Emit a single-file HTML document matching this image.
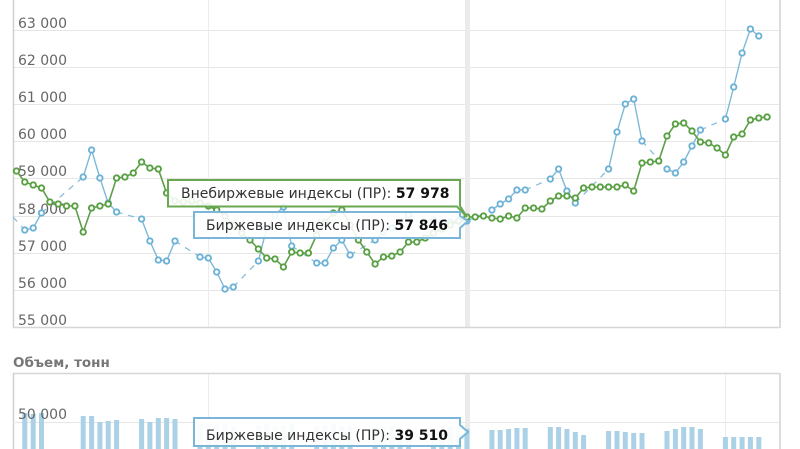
<!DOCTYPE html>
<html>
<head>
<meta charset="utf-8">
<style>
  html,body{margin:0;padding:0;background:#fff;}
  svg{display:block;}
  .lbl{font-family:"DejaVu Sans","Liberation Sans",sans-serif;font-size:14px;fill:#666;}
  .tt{font-family:"DejaVu Sans","Liberation Sans",sans-serif;font-size:14px;fill:#333;}
  .b{font-weight:bold;fill:#111;}
</style>
</head>
<body>
<svg width="800" height="449" viewBox="0 0 800 449" xmlns="http://www.w3.org/2000/svg">
  <defs>
    <marker id="mg" markerUnits="userSpaceOnUse" markerWidth="10" markerHeight="10" refX="5" refY="5">
      <circle cx="5" cy="5" r="2.7" fill="#fff" stroke="#58a043" stroke-width="1.9"/>
    </marker>
    <marker id="mb" markerUnits="userSpaceOnUse" markerWidth="10" markerHeight="10" refX="5" refY="5">
      <circle cx="5" cy="5" r="2.7" fill="#fff" stroke="#6cb2d6" stroke-width="1.9"/>
    </marker>
  </defs>

  <g stroke="#e6e6e6" stroke-width="1">
    <line x1="13" y1="30.5" x2="780" y2="30.5"/>
    <line x1="13" y1="67.5" x2="780" y2="67.5"/>
    <line x1="13" y1="104.5" x2="780" y2="104.5"/>
    <line x1="13" y1="141.5" x2="780" y2="141.5"/>
    <line x1="13" y1="178.5" x2="780" y2="178.5"/>
    <line x1="13" y1="216.5" x2="780" y2="216.5"/>
    <line x1="13" y1="253.5" x2="780" y2="253.5"/>
    <line x1="13" y1="290.5" x2="780" y2="290.5"/>
  </g>
  <g stroke="#ececec" stroke-width="1">
    <line x1="208.5" y1="0" x2="208.5" y2="328"/>
    <line x1="725.5" y1="0" x2="725.5" y2="328"/>
  </g>
  <rect x="465" y="0" width="5" height="328" fill="#ebebeb"/>
  <line x1="13.5" y1="0" x2="13.5" y2="328" stroke="#cfcfcf" stroke-width="1.5"/>
  <line x1="13" y1="327.5" x2="780" y2="327.5" stroke="#d6d6d6" stroke-width="1.5"/>
  <line x1="780" y1="0" x2="780" y2="328" stroke="#dcdcdc" stroke-width="2"/>

  <g class="lbl">
    <text x="18" y="28">63 000</text>
    <text x="18" y="65">62 000</text>
    <text x="18" y="102">61 000</text>
    <text x="18" y="139">60 000</text>
    <text x="18" y="176">59 000</text>
    <text x="18" y="214">58 000</text>
    <text x="18" y="251">57 000</text>
    <text x="18" y="288">56 000</text>
    <text x="18" y="325">55 000</text>
  </g>

  <g stroke="#86bedb" stroke-width="1.3" stroke-dasharray="6,6" fill="none">
    <line x1="13" y1="217" x2="24.8" y2="230"/>
    <line x1="41.5" y1="213" x2="83.2" y2="177"/>
    <line x1="116.6" y1="212" x2="141.6" y2="219"/>
    <line x1="175" y1="241" x2="200" y2="257"/>
    <line x1="233.3" y1="287" x2="258.4" y2="261"/>
    <line x1="291.7" y1="246" x2="316.7" y2="263"/>
    <line x1="350.1" y1="255" x2="375.1" y2="240"/>
    <line x1="408.5" y1="215" x2="433.5" y2="220"/>
    <line x1="466.9" y1="221" x2="491.9" y2="210"/>
    <line x1="525.2" y1="190" x2="550.3" y2="179"/>
    <line x1="575.3" y1="203" x2="608.6" y2="169"/>
    <line x1="642" y1="141" x2="667" y2="169"/>
    <line x1="700.4" y1="130" x2="725.4" y2="119"/>
  </g>
  <g stroke="#7db9d8" stroke-width="1.4" fill="none" marker-start="url(#mb)" marker-mid="url(#mb)" marker-end="url(#mb)">
    <polyline points="24.8,230 33.2,228 41.5,213"/>
    <polyline points="83.2,177 91.6,150 99.9,178 108.2,203 116.6,212"/>
    <polyline points="141.6,219 149.9,241 158.3,260 166.6,261 175,241"/>
    <polyline points="200,257 208.3,258 216.7,272 225,289 233.3,287"/>
    <polyline points="258.4,261 266.7,228 275,215 283.4,207 291.7,246"/>
    <polyline points="316.7,263 325.1,263 333.4,248 341.8,240 350.1,255"/>
    <polyline points="375.1,240 383.5,232 391.8,228 400.1,222 408.5,215"/>
    <polyline points="433.5,220 441.8,223 450.2,222 458.5,221 466.9,221"/>
    <polyline points="491.9,210 500.2,204 508.6,199 516.9,190 525.2,190"/>
    <polyline points="550.3,179 558.6,169 566.9,191 575.3,203"/>
    <polyline points="608.6,169 617,132 625.3,104 633.7,99 642,141"/>
    <polyline points="667,169 675.4,173 683.7,162 692,146 700.4,130"/>
    <polyline points="725.4,119 733.7,87 742.1,53 750.4,29 758.8,36"/>
  </g>

  <polyline fill="none" stroke="#5d9e49" stroke-width="1.6" marker-start="url(#mg)" marker-mid="url(#mg)" marker-end="url(#mg)"
    points="16.5,171 24.8,182 33.2,185 41.5,188 49.9,202 58.2,204 66.5,206 74.9,206 83.2,232 91.6,208 99.9,206 108.2,204 116.6,178 124.9,177 133.3,173 141.6,162 149.9,168 158.3,169 166.6,193 175,201 183.3,202 191.6,201 200,203 208.3,206 216.7,210 225,216 233.3,225 241.7,233 250,240 258.4,249 266.7,258 275,259 283.4,267 291.7,252 300.1,253 308.4,253 316.7,235 325.1,222 333.4,213 341.8,210 350.1,225 358.4,240 366.8,252 375.1,264 383.5,257 391.8,256 400.1,252 408.5,242 416.8,242 425.2,238 433.5,233 441.8,229 450.2,225 458.5,221 466.9,217 475.2,217 483.5,216 491.9,218 500.2,219 508.6,216 516.9,218 525.2,208 533.6,208 541.9,209 550.3,201 558.6,196 566.9,196 575.3,198 583.6,188 592,187 600.3,187 608.6,187 617,187 625.3,185 633.7,191 642,163 650.3,162 658.7,161 667,136 675.4,124 683.7,123 692,131 700.4,142 708.7,143 717.1,148 725.4,155 733.7,137 742.1,134 750.4,120 758.8,118 767.1,117"/>

  <path d="M168,180 H460 V206 L467,217 L457,206.5 H168 Z" fill="rgba(255,255,255,0.88)" stroke="#68a851" stroke-width="2"/>
  <text class="tt" x="181" y="198">Внебиржевые индексы (ПР): <tspan class="b">57 978</tspan></text>

  <path d="M194,212 H460 V216 L468,221 L460,228 V238 H194 Z" fill="rgba(255,255,255,0.88)" stroke="#7ab6d8" stroke-width="2"/>
  <text class="tt" x="206" y="230">Биржевые индексы (ПР): <tspan class="b">57 846</tspan></text>

  <text x="13" y="367" font-family="'DejaVu Sans','Liberation Sans',sans-serif" font-size="13.5" font-weight="bold" fill="#777">Объем, тонн</text>
  <line x1="13" y1="373.5" x2="780" y2="373.5" stroke="#d6d6d6" stroke-width="1.5"/>
  <line x1="13.5" y1="373" x2="13.5" y2="449" stroke="#cfcfcf" stroke-width="1.5"/>
  <line x1="780" y1="373" x2="780" y2="449" stroke="#dcdcdc" stroke-width="2"/>
  <line x1="13" y1="422.5" x2="780" y2="422.5" stroke="#e6e6e6"/>
  <g stroke="#ececec" stroke-width="1">
    <line x1="208.5" y1="374" x2="208.5" y2="449"/>
    <line x1="725.5" y1="374" x2="725.5" y2="449"/>
  </g>
  <rect x="465" y="374" width="5" height="75" fill="#ebebeb"/>

  <g fill="#aad1e6">
    <rect x="22.3" y="413" width="5" height="36"/>
    <rect x="30.7" y="414" width="5" height="35"/>
    <rect x="39" y="413" width="5" height="36"/>
    <rect x="80.7" y="416" width="5" height="33"/>
    <rect x="89.1" y="416" width="5" height="33"/>
    <rect x="97.4" y="422" width="5" height="27"/>
    <rect x="105.7" y="421" width="5" height="28"/>
    <rect x="114.1" y="420" width="5" height="29"/>
    <rect x="139.1" y="419" width="5" height="30"/>
    <rect x="147.4" y="422" width="5" height="27"/>
    <rect x="155.8" y="418" width="5" height="31"/>
    <rect x="164.1" y="418" width="5" height="31"/>
    <rect x="172.5" y="419" width="5" height="30"/>
    <rect x="197.5" y="424" width="5" height="25"/>
    <rect x="205.8" y="424" width="5" height="25"/>
    <rect x="214.2" y="425" width="5" height="24"/>
    <rect x="222.5" y="424" width="5" height="25"/>
    <rect x="230.8" y="426" width="5" height="23"/>
    <rect x="255.9" y="425" width="5" height="24"/>
    <rect x="264.2" y="424" width="5" height="25"/>
    <rect x="272.5" y="426" width="5" height="23"/>
    <rect x="280.9" y="425" width="5" height="24"/>
    <rect x="289.2" y="424" width="5" height="25"/>
    <rect x="314.2" y="426" width="5" height="23"/>
    <rect x="322.6" y="425" width="5" height="24"/>
    <rect x="330.9" y="424" width="5" height="25"/>
    <rect x="339.3" y="426" width="5" height="23"/>
    <rect x="347.6" y="425" width="5" height="24"/>
    <rect x="372.6" y="427" width="5" height="22"/>
    <rect x="381" y="426" width="5" height="23"/>
    <rect x="389.3" y="425" width="5" height="24"/>
    <rect x="397.6" y="427" width="5" height="22"/>
    <rect x="406" y="428" width="5" height="21"/>
    <rect x="431" y="428" width="5" height="21"/>
    <rect x="439.3" y="427" width="5" height="22"/>
    <rect x="447.7" y="426" width="5" height="23"/>
    <rect x="456" y="428" width="5" height="21"/>
    <rect x="464.4" y="429" width="5" height="20"/>
    <rect x="489.4" y="430" width="5" height="19"/>
    <rect x="497.7" y="430" width="5" height="19"/>
    <rect x="506.1" y="429" width="5" height="20"/>
    <rect x="514.4" y="428" width="5" height="21"/>
    <rect x="522.7" y="428" width="5" height="21"/>
    <rect x="547.8" y="427" width="5" height="22"/>
    <rect x="556.1" y="427" width="5" height="22"/>
    <rect x="564.4" y="429" width="5" height="20"/>
    <rect x="572.8" y="432" width="5" height="17"/>
    <rect x="581.1" y="435" width="5" height="14"/>
    <rect x="606.1" y="431" width="5" height="18"/>
    <rect x="614.5" y="431" width="5" height="18"/>
    <rect x="622.8" y="432" width="5" height="17"/>
    <rect x="631.2" y="433" width="5" height="16"/>
    <rect x="639.5" y="433" width="5" height="16"/>
    <rect x="664.5" y="431" width="5" height="18"/>
    <rect x="672.9" y="429" width="5" height="20"/>
    <rect x="681.2" y="427" width="5" height="22"/>
    <rect x="689.5" y="427" width="5" height="22"/>
    <rect x="697.9" y="429" width="5" height="20"/>
    <rect x="722.9" y="437" width="5" height="12"/>
    <rect x="731.2" y="437" width="5" height="12"/>
    <rect x="739.6" y="437" width="5" height="12"/>
    <rect x="747.9" y="437" width="5" height="12"/>
    <rect x="756.3" y="437" width="5" height="12"/>
  </g>

  <text class="lbl" x="18" y="419">50 000</text>

  <path d="M194,418 H460 V425 L468,432 L460,439 V446 H194 Z" fill="rgba(255,255,255,0.92)" stroke="#7ab6d8" stroke-width="2"/>
  <text class="tt" x="206" y="440">Биржевые индексы (ПР): <tspan class="b">39 510</tspan></text>
</svg>
</body>
</html>
